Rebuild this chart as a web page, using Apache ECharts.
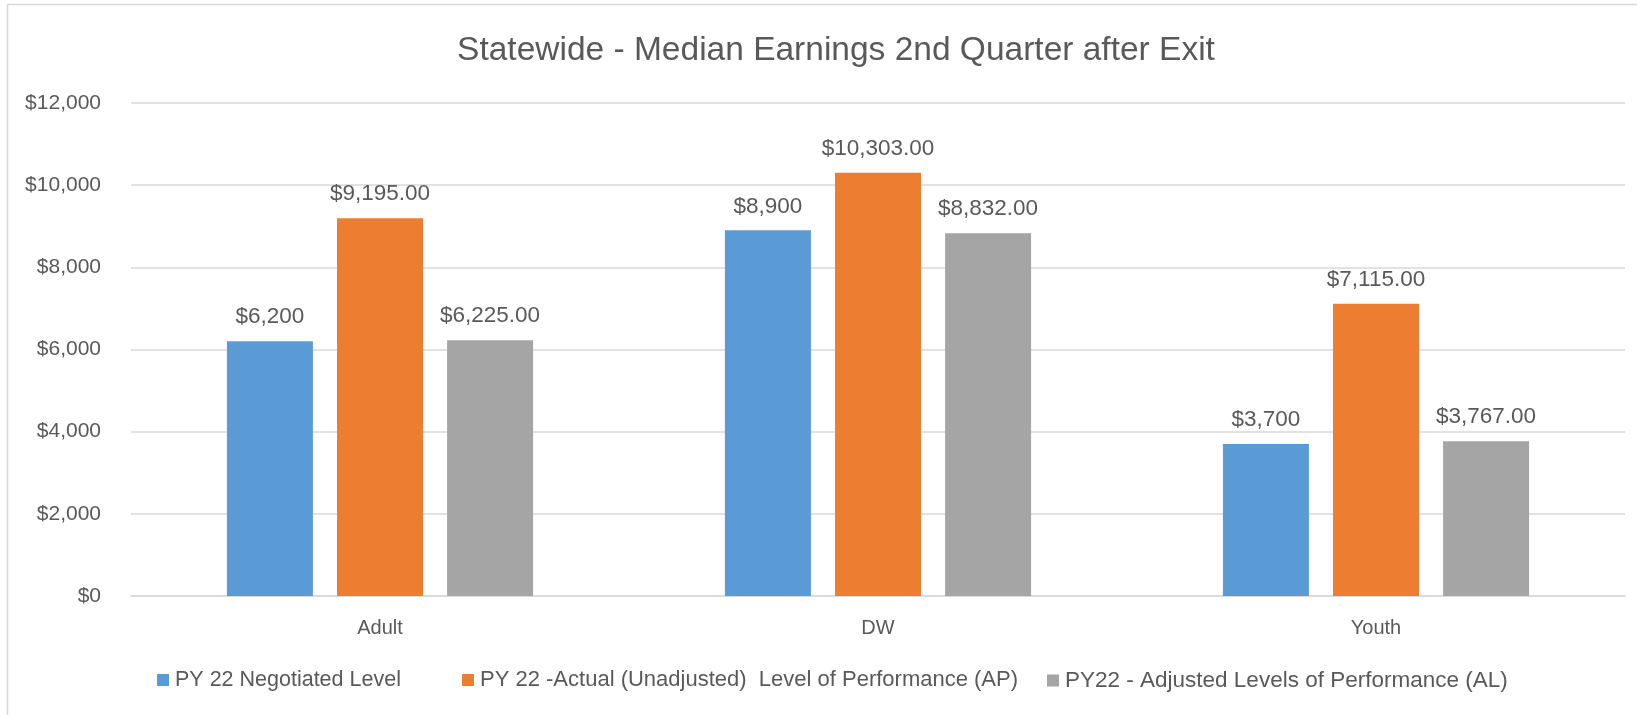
<!DOCTYPE html>
<html>
<head>
<meta charset="utf-8">
<script src="https://cdn.jsdelivr.net/npm/echarts@6/dist/echarts.min.js"></script>
<style>html,body{margin:0;padding:0;background:#fff}#c{width:1637px;height:715px}</style>
</head>
<body>
<div id="c"></div>
<script>
const title = 'Statewide - Median Earnings 2nd Quarter after Exit';
const categories = ['Adult', 'DW', 'Youth'];
const seriesNames = ['PY 22 Negotiated Level', 'PY 22 -Actual (Unadjusted)  Level of Performance (AP)', 'PY22 - Adjusted Levels of Performance (AL)'];
const negotiated = [6200, 8900, 3700];
const actual = [9195, 10303, 7115];
const adjusted = [6225, 8832, 3767];
const yTicks = { min: 0, max: 12000, interval: 2000 };

const FONT = '"Liberation Sans", Arial, sans-serif';
const TXT = '#595959';
const colors = ['#5B9BD5', '#ED7D31', '#A5A5A5'];

function money(v, dec) {
  return '$' + Number(v).toLocaleString('en-US', { minimumFractionDigits: dec, maximumFractionDigits: dec });
}

const chart = echarts.init(document.getElementById('c'), null, { renderer: 'canvas' });
const dataSets = [negotiated, actual, adjusted];
const decimals = [0, 2, 2];
const legendLefts = [152, 457, 1042];
const legendFont = [21.5, 22, 22.5];

chart.setOption({
  animation: false,
  backgroundColor: '#fff',
  color: colors,
  title: {
    text: title,
    left: 831, textAlign: 'center', top: 29,
    textStyle: { fontFamily: FONT, fontSize: 33.5, fontWeight: 'normal', color: TXT }
  },
  graphic: [{
    type: 'rect', shape: { x: 7.5, y: 4.5, width: 1640, height: 720 },
    style: { fill: 'none', stroke: '#D9D9D9', lineWidth: 1.5 }, silent: true, z: -1
  }],
  legend: seriesNames.map((n, i) => ({
    data: [n], left: legendLefts[i], top: 664, itemWidth: 12, itemHeight: 12, icon: 'rect',
    itemGap: 0,
    textStyle: { fontFamily: FONT, fontSize: legendFont[i], color: TXT, padding: [0, 0, 0, 1] }
  })),
  grid: { left: 131, right: 12, top: 103, bottom: 119, containLabel: false },
  xAxis: {
    type: 'category', data: categories,
    axisLine: { lineStyle: { color: '#D9D9D9', width: 1.5 } },
    axisTick: { show: false },
    axisLabel: { fontFamily: FONT, fontSize: 20, color: TXT, margin: 22 }
  },
  yAxis: {
    type: 'value', min: yTicks.min, max: yTicks.max, interval: yTicks.interval,
    axisLine: { show: false }, axisTick: { show: false },
    splitLine: { lineStyle: { color: '#D9D9D9', width: 1.5 } },
    axisLabel: { fontFamily: FONT, fontSize: 21, color: TXT, margin: 30, formatter: v => money(v, 0) }
  },
  series: seriesNames.map((n, i) => ({
    name: n, type: 'bar', data: dataSets[i],
    barWidth: 86, barGap: '28%',
    label: {
      show: true, position: 'top', distance: 12.5,
      fontFamily: FONT, fontSize: 22.5, color: TXT,
      formatter: p => money(p.value, decimals[i])
    }
  }))
});
</script>
</body>
</html>
